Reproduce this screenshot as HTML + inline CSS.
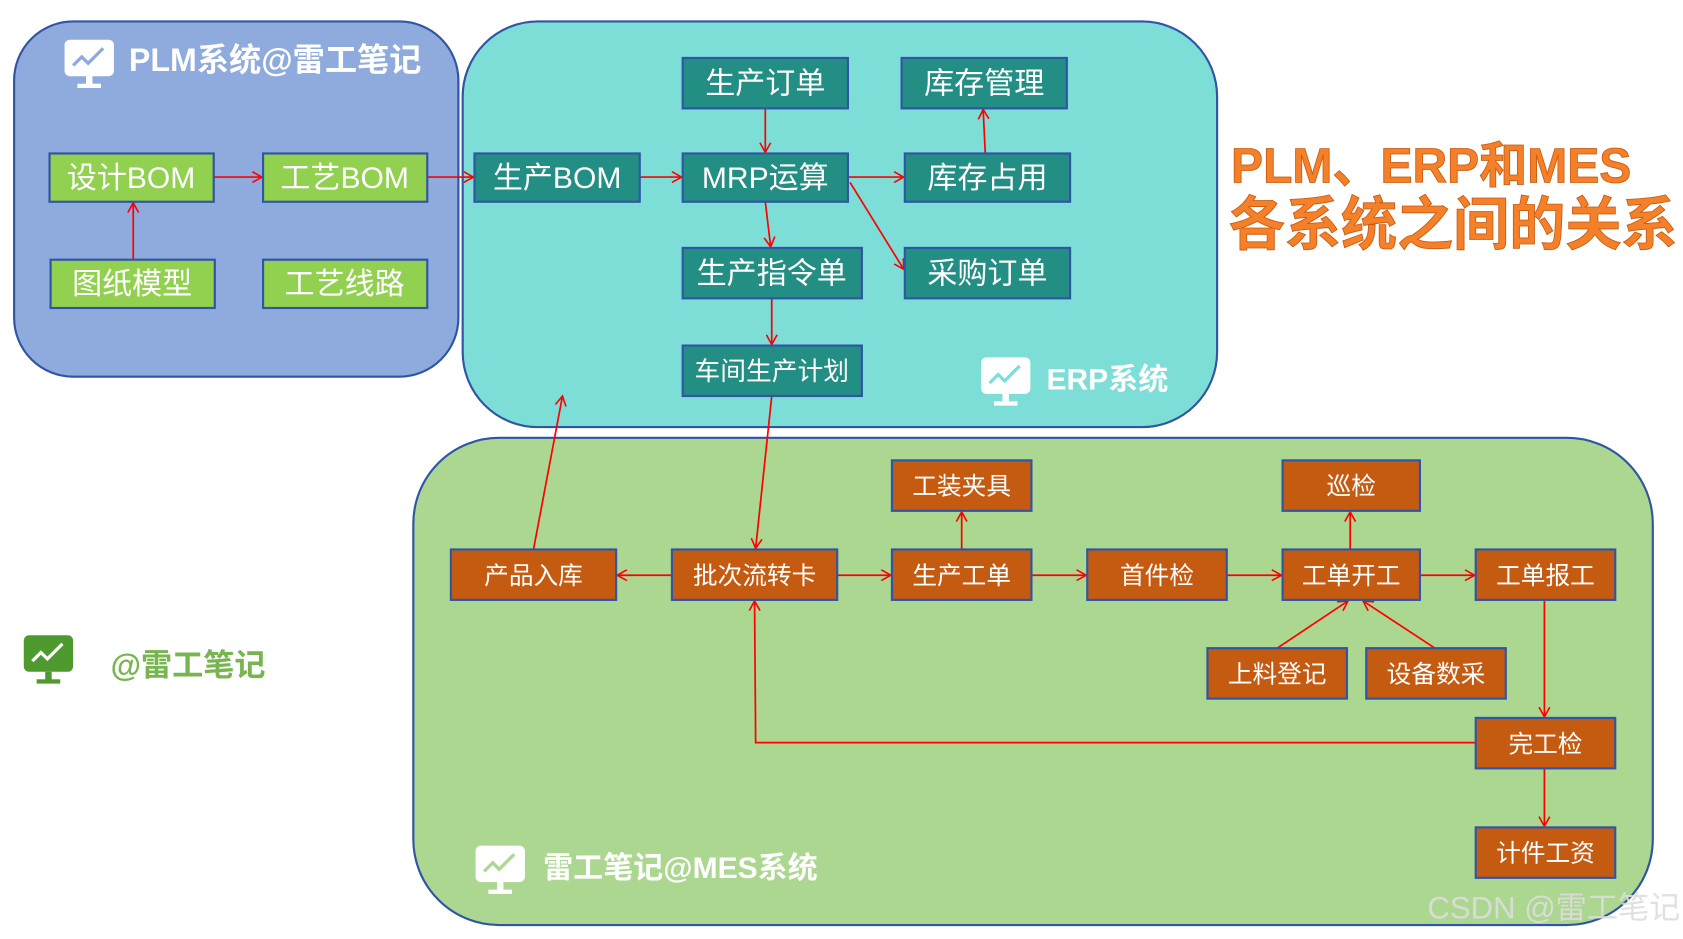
<!DOCTYPE html>
<html><head><meta charset="utf-8"><style>html,body{margin:0;padding:0;background:#fff;}svg{display:block}</style></head>
<body>
<svg width="1683" height="939" viewBox="0 0 1568 875" xmlns="http://www.w3.org/2000/svg" font-family="Liberation Sans, Noto Sans CJK SC, sans-serif">
<defs>
<marker id="a" markerWidth="12" markerHeight="12" refX="10" refY="6" orient="auto" markerUnits="userSpaceOnUse"><path d="M1,1 L10,6 L1,11" fill="none" stroke="#f00" stroke-width="1.5"/></marker>
<g id="ic"><rect x="0" y="0" width="46" height="34" rx="5" fill="#fff"/><polyline points="8,24 16,16 22,22 36,8" fill="none" stroke="currentColor" stroke-width="3"/><rect x="20" y="34" width="6" height="8" fill="#fff"/><rect x="12" y="41" width="22" height="4" fill="#fff"/></g>
</defs>
<rect x="13" y="20" width="414" height="331" rx="55" fill="#8FAADC" stroke="#2F55A4" stroke-width="2"/>
<rect x="431" y="20" width="703" height="378" rx="70" fill="#7DDED7" stroke="#2F55A4" stroke-width="2"/>
<rect x="385" y="408" width="1155" height="454" rx="80" fill="#ACD790" stroke="#2F55A4" stroke-width="2"/>
<use href="#ic" x="60" y="37" style="color:#8FAADC"/>
<text x="120" y="66" font-size="30" font-weight="bold" fill="#fff">PLM系统@雷工笔记</text>
<use href="#ic" x="914" y="333" style="color:#7DDED7"/>
<text x="975" y="363" font-size="28" font-weight="bold" fill="#fff">ERP系统</text>
<use href="#ic" x="443" y="788" style="color:#ACD790"/>
<text x="506" y="818" font-size="28" font-weight="bold" fill="#fff">雷工笔记@MES系统</text>
<rect x="22" y="592" width="46" height="34" rx="5" fill="#4E9A2E"/><polyline points="30,616 38,608 44,614 58,600" fill="none" stroke="#fff" stroke-width="3"/><rect x="42" y="626" width="6" height="8" fill="#4E9A2E"/><rect x="34" y="633" width="22" height="4" fill="#4E9A2E"/>
<text x="103" y="630" font-size="29" font-weight="bold" fill="#78B450">@雷工笔记</text>
<text x="1147" y="170" font-size="46" font-weight="bold" fill="#F4802A" stroke="#C85A10" stroke-width="0.8" textLength="373" lengthAdjust="spacingAndGlyphs">PLM、ERP和MES</text>
<text x="1145" y="228" font-size="54" font-weight="bold" fill="#F4802A" stroke="#C85A10" stroke-width="0.8" textLength="418" lengthAdjust="spacingAndGlyphs">各系统之间的关系</text>
<text x="1330" y="856" font-size="29" fill="#ddd" opacity="0.9">CSDN @雷工笔记</text>
<g stroke="#f00" stroke-width="1.6" fill="none" marker-end="url(#a)">
<line x1="199" y1="165" x2="244" y2="165"/>
<line x1="124" y1="242" x2="124" y2="189"/>
<line x1="398" y1="165" x2="441" y2="165"/>
<line x1="596" y1="165" x2="635" y2="165"/>
<line x1="713" y1="101" x2="713" y2="142"/>
<line x1="790" y1="165" x2="842" y2="165"/>
<line x1="918" y1="143" x2="916" y2="102"/>
<line x1="713" y1="188" x2="718" y2="230"/>
<line x1="792" y1="170" x2="842" y2="251"/>
<line x1="719" y1="278" x2="719" y2="321"/>
<line x1="719" y1="369" x2="704" y2="511"/>
<line x1="497" y1="512" x2="524" y2="369"/>
<line x1="626" y1="536" x2="575" y2="536"/>
<line x1="780" y1="536" x2="830" y2="536"/>
<line x1="896" y1="512" x2="896" y2="477"/>
<line x1="961" y1="536" x2="1012" y2="536"/>
<line x1="1143" y1="536" x2="1194" y2="536"/>
<line x1="1258" y1="512" x2="1258" y2="477"/>
<line x1="1323" y1="536" x2="1374" y2="536"/>
<line x1="1190" y1="604" x2="1256" y2="560"/>
<line x1="1337" y1="604" x2="1270" y2="560"/>
<line x1="1439" y1="559" x2="1439" y2="668"/>
<line x1="1439" y1="716" x2="1439" y2="770"/>
<polyline points="1375,692 704,692 703,560"/>
</g>
<g stroke="#2F55A4" stroke-width="2" fill="#92D050">
<rect x="46" y="143" width="153" height="45"/><rect x="245" y="143" width="153" height="45"/>
<rect x="47" y="242" width="153" height="45"/><rect x="245" y="242" width="153" height="45"/>
</g>
<g font-size="28" fill="#fff" text-anchor="middle">
<text x="122" y="175">设计BOM</text><text x="321" y="175">工艺BOM</text>
<text x="123" y="274">图纸模型</text><text x="321" y="274">工艺线路</text>
</g>
<g stroke="#2F55A4" stroke-width="2" fill="#238E84">
<rect x="442" y="143" width="154" height="45"/><rect x="636" y="54" width="154" height="47"/>
<rect x="840" y="54" width="154" height="47"/><rect x="636" y="143" width="154" height="45"/>
<rect x="843" y="143" width="154" height="45"/><rect x="636" y="231" width="167" height="47"/>
<rect x="843" y="231" width="154" height="47"/><rect x="636" y="322" width="167" height="47"/>
</g>
<g font-size="28" fill="#fff" text-anchor="middle">
<text x="519" y="175">生产BOM</text><text x="713" y="87">生产订单</text>
<text x="917" y="87">库存管理</text><text x="713" y="175">MRP运算</text>
<text x="920" y="175">库存占用</text><text x="719" y="264">生产指令单</text>
<text x="920" y="264">采购订单</text><text x="719" y="354" font-size="24">车间生产计划</text>
</g>
<g stroke="#2F55A4" stroke-width="2" fill="#C55A11">
<rect x="420" y="512" width="154" height="47"/><rect x="626" y="512" width="154" height="47"/>
<rect x="831" y="512" width="130" height="47"/><rect x="1013" y="512" width="130" height="47"/>
<rect x="1195" y="512" width="128" height="47"/><rect x="1375" y="512" width="130" height="47"/>
<rect x="831" y="429" width="130" height="47"/><rect x="1195" y="429" width="128" height="47"/>
<rect x="1125" y="604" width="130" height="47"/><rect x="1273" y="604" width="130" height="47"/>
<rect x="1375" y="669" width="130" height="47"/><rect x="1375" y="771" width="130" height="47"/>
</g>
<g font-size="23" fill="#fff" text-anchor="middle">
<text x="497" y="544">产品入库</text><text x="703" y="544">批次流转卡</text>
<text x="896" y="544">生产工单</text><text x="1078" y="544">首件检</text>
<text x="1259" y="544">工单开工</text><text x="1440" y="544">工单报工</text>
<text x="896" y="461">工装夹具</text><text x="1259" y="461">巡检</text>
<text x="1190" y="636">上料登记</text><text x="1338" y="636">设备数采</text>
<text x="1440" y="701">完工检</text><text x="1440" y="803">计件工资</text>
</g>
</svg>
</body></html>
